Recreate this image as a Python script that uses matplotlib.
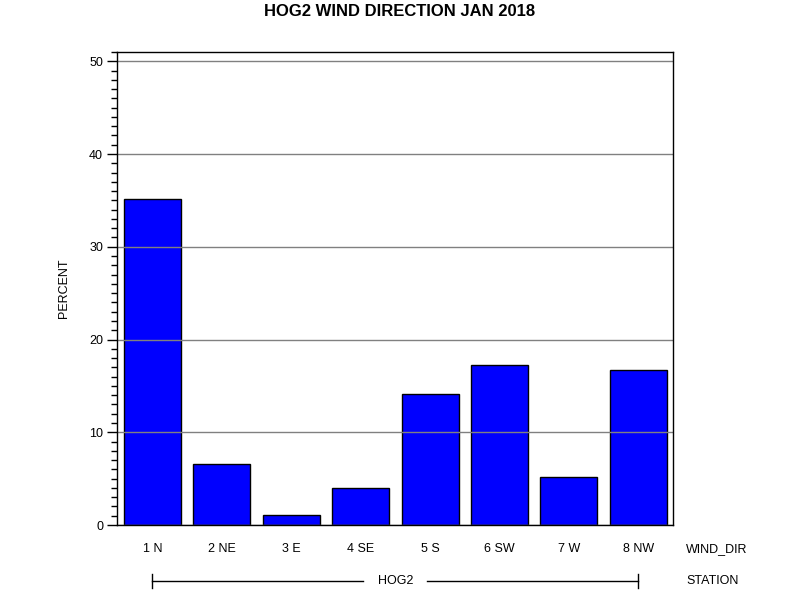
import numpy as np
import matplotlib.pyplot as plt
from matplotlib.ticker import MultipleLocator

# wind direction frequencies for HOG2, Jan 2018
wind_dir = ['1 N', '2 NE', '3 E', '4 SE', '5 S', '6 SW', '7 W', '8 NW']
percent = [35.1, 6.6, 1.1, 4.0, 14.1, 17.2, 5.2, 16.7]
station = 'HOG2'

plt.rcParams['font.family'] = ['Liberation Sans', 'DejaVu Sans']

fig = plt.figure(figsize=(8, 6), dpi=100)
ax = fig.add_axes([0.14625, 0.125, 0.695, 0.78833])

x = np.arange(1, len(wind_dir) + 1)
ax.bar(x, percent, width=0.82, color='#0000ff', edgecolor='black',
       linewidth=1, zorder=2)

ax.set_xlim(0.49, 8.5)
ax.set_ylim(0, 51)
ax.yaxis.set_major_locator(MultipleLocator(10))
ax.yaxis.set_minor_locator(MultipleLocator(1))
# grid is drawn over the bars in the original
ax.set_axisbelow(False)
ax.grid(axis='y', which='major', color='#808080', linewidth=1, zorder=3)
ax.tick_params(axis='y', which='major', length=7, width=1, labelsize=9, pad=3)
ax.tick_params(axis='y', which='minor', length=4, width=1)
ax.set_xticks(x)
ax.set_xticklabels(wind_dir, fontsize=9)
ax.tick_params(axis='x', length=0, pad=13)
for s in ax.spines.values():
    s.set_linewidth(1)
    s.set_zorder(4)

ax.set_ylabel('PERCENT', fontsize=9)
ax.yaxis.set_label_coords(-(117 - 70) / 556, 0.5)
fig.text(0.5, 0.98, 'HOG2 WIND DIRECTION JAN 2018', ha='center', va='center',
         fontsize=12, fontweight='bold')

# group axis labels below the bars
fig.text(686 / 800, 1 - 549 / 600, 'WIND_DIR', ha='left', va='center', fontsize=9)
fig.text(686 / 800, 1 - 581 / 600, 'STATION', ha='left', va='center', fontsize=9)

# station bracket, in data coords along x
trans = ax.get_xaxis_transform()
yb = -(581 - 525) / (525 - 52)
ax.plot([x[0], 4.03], [yb, yb], color='black', lw=1, transform=trans, clip_on=False)
ax.plot([4.95, x[-1]], [yb, yb], color='black', lw=1, transform=trans, clip_on=False)
tick_h = 7 / (525 - 52)
for xe in (x[0], x[-1]):
    ax.plot([xe, xe], [yb - tick_h, yb + tick_h], color='black', lw=1,
            transform=trans, clip_on=False)
ax.text((x[0] + x[-1]) / 2, yb, station, ha='center', va='center', fontsize=9,
        transform=trans)

fig.savefig('out.png', dpi=100)
